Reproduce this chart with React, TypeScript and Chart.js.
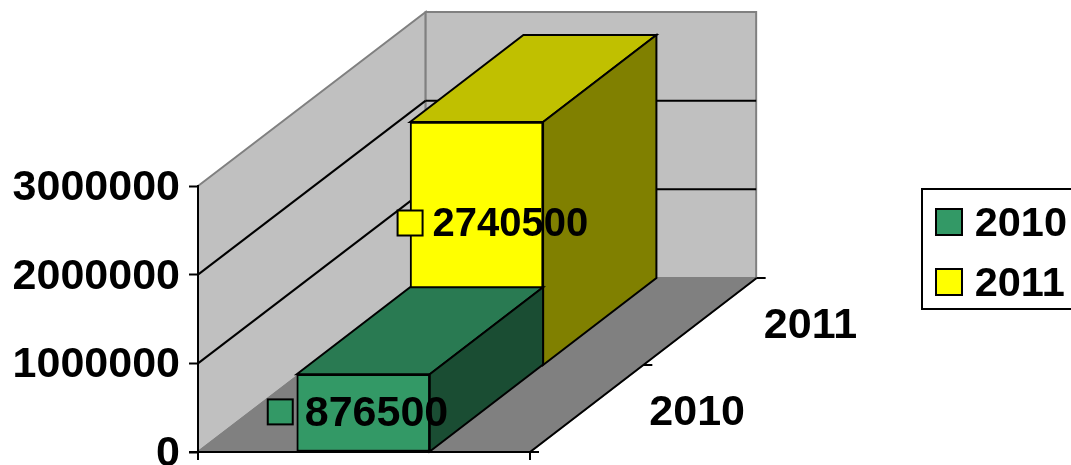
import React, { useEffect, useRef } from "react";
import { Chart, registerables } from "chart.js";

Chart.register(...registerables);

const categories = ["2010", "2011"];
const seriesValues = [876500, 2740500];
const seriesColors = ["#339966", "#FFFF00"];
const topColors = ["#297A52", "#C0C000"];
const sideColors = ["#1A4D33", "#808000"];
const yTicks = [0, 1000000, 2000000, 3000000];

const FONT = "'Liberation Sans', Arial, sans-serif";
const WALL = "#C0C0C0";
const FLOOR = "#808080";
const EDGE = "#808080";
const LW = 2;
const CANVAS_W = 1077;
// Label anchor relative to each bar's front face centre
const labelShiftX = [-95.5, -79];
const labelShiftY = [-1, -20.5];
const labelTextGap = [37, 35];
const labelFontSize = [43, 40];

const poly = (ctx: any, pts: number[][], fill: string | null, stroke?: string, lw = LW) => {
  ctx.beginPath();
  pts.forEach((p, i) => (i ? ctx.lineTo(p[0], p[1]) : ctx.moveTo(p[0], p[1])));
  ctx.closePath();
  if (fill) {
    ctx.fillStyle = fill;
    ctx.fill();
  }
  if (stroke) {
    ctx.strokeStyle = stroke;
    ctx.lineWidth = lw;
    ctx.stroke();
  }
};

const seg = (ctx: any, x1: number, y1: number, x2: number, y2: number, c = "#000", lw = LW) => {
  ctx.beginPath();
  ctx.moveTo(x1, y1);
  ctx.lineTo(x2, y2);
  ctx.strokeStyle = c;
  ctx.lineWidth = lw;
  ctx.stroke();
};

const depth = (chart: any) => ({
  dx: chart.scales.x.getPixelForValue(1) - chart.scales.x.getPixelForValue(0),
  dy: chart.scales.yBack.getPixelForValue(0) - chart.scales.y.getPixelForValue(0),
});

const box3d = {
  id: "box3d",
  afterLayout(chart: any) {
    chart.legend.top -= 1.5;
    chart.legend.bottom -= 1.5;
  },
  beforeDraw(chart: any) {
    const { ctx, chartArea, scales } = chart;
    const { dx, dy } = depth(chart);
    const L = chartArea.left;
    const R = L + 332;
    const n = categories.length;
    const DX = dx * n;
    const DY = dy * n;
    const BL = L + DX + 1;
    const BR = R + DX - 0.5;
    const y0 = scales.y.getPixelForValue(0);
    const yT = scales.y.getPixelForValue(3000000);
    ctx.save();
    poly(ctx, [[L, yT], [BL, yT + DY], [BL, y0 + DY], [L, y0]], WALL, EDGE);
    poly(ctx, [[BL, yT + DY], [BR, yT + DY], [BR, y0 + DY], [BL, y0 + DY]], WALL, EDGE);
    poly(ctx, [[L, y0], [BL, y0 + DY], [BR, y0 + DY], [R, y0]], FLOOR, EDGE);
    yTicks.slice(1, -1).forEach((v) => {
      const y = scales.y.getPixelForValue(v);
      seg(ctx, L, y, BL, y + DY);
      seg(ctx, BL, y + DY, BR, y + DY);
    });
    ctx.restore();
  },
  beforeDatasetDraw(chart: any, args: any) {
    const { ctx } = chart;
    const { dx, dy } = depth(chart);
    const i = args.index;
    const el = chart.getDatasetMeta(i).data[0];
    if (!el) return;
    const hw = el.width / 2;
    const l = el.x - hw;
    const r = el.x + hw;
    const t = el.y;
    const b = el.base;
    ctx.save();
    poly(ctx, [[l, t], [l + dx, t + dy], [r + dx, t + dy], [r, t]], topColors[i], "#000");
    poly(ctx, [[r, t], [r + dx, t + dy], [r + dx, b + dy], [r, b]], sideColors[i], "#000");
    ctx.restore();
  },
  afterDatasetsDraw(chart: any) {
    const { ctx, chartArea, scales } = chart;
    const { dx, dy } = depth(chart);
    const L = chartArea.left;
    const R = L + 332;
    const y0 = scales.y.getPixelForValue(0);
    ctx.save();
    // front and depth axes with their tick marks
    seg(ctx, L - 9, y0, R, y0);
    seg(ctx, L, y0, L, y0 + 8);
    seg(ctx, R, y0, R, y0 + 8);
    const n = categories.length;
    seg(ctx, R, y0, R + dx * n, y0 + dy * n);
    for (let k = 0; k <= n; k++) {
      const x = R + dx * k;
      const y = y0 + dy * k;
      seg(ctx, x, y, x + 9, y);
    }
    ctx.fillStyle = "#000";
    ctx.textAlign = "center";
    ctx.textBaseline = "middle";
    ctx.font = `bold 43px ${FONT}`;
    categories.forEach((c, k) => {
      ctx.fillText(c, R + dx * (k + 0.5) + 110.5, y0 + dy * (k + 0.5) + 4.5);
    });
    // data labels with colour keys
    seriesValues.forEach((v, i) => {
      const el = chart.getDatasetMeta(i).data[0];
      const cy = (el.y + el.base) / 2 + labelShiftY[i];
      const kx = el.x + labelShiftX[i];
      ctx.fillStyle = seriesColors[i];
      ctx.fillRect(kx, cy - 12.5, 25, 25);
      ctx.strokeStyle = "#000";
      ctx.lineWidth = LW;
      ctx.strokeRect(kx, cy - 12.5, 25, 25);
      ctx.fillStyle = "#000";
      ctx.textAlign = "left";
      ctx.font = `bold ${labelFontSize[i]}px ${FONT}`;
      ctx.fillText(String(v), kx + labelTextGap[i], cy + 2);
    });
    // legend frame and keys
    const lg = chart.legend;
    ctx.strokeStyle = "#000";
    ctx.lineWidth = LW;
    ctx.strokeRect(922, lg.top + 4.5, 200, 120);
    seriesColors.forEach((c, i) => {
      ctx.fillStyle = c;
      ctx.fillRect(936, lg.top + 24.5 + i * 60, 26, 26);
      ctx.strokeRect(936, lg.top + 24.5 + i * 60, 26, 26);
    });
    ctx.restore();
  },
};

export default function App() {
  const ref = useRef<HTMLCanvasElement>(null);
  useEffect(() => {
    const pxPerUnit = 113.5;
    const chart = new Chart(ref.current as HTMLCanvasElement, {
      type: "bar",
      data: {
        labels: categories,
        datasets: categories.map((c, i) => ({
          label: c,
          data: [{ x: i, y: seriesValues[i] }],
          yAxisID: i === 0 ? "y" : "yBack",
          backgroundColor: seriesColors[i],
          borderColor: "#000",
          borderWidth: LW,
          borderSkipped: false,
          barThickness: 133,
          grouped: false,
          clip: false as any,
        })),
      },
      options: {
        animation: false,
        responsive: false,
        layout: { padding: { top: 186, bottom: 13 } },
        plugins: {
          title: { display: false },
          tooltip: { enabled: false },
          legend: {
            position: "right",
            align: "start",
            labels: {
              boxWidth: 26,
              boxHeight: 26,
              padding: 19,
              color: "#000",
              font: { family: FONT, weight: "bold", size: 41.5 },
              generateLabels: () =>
                categories.map((c, i) => ({
                  text: c,
                  datasetIndex: i,
                  fillStyle: "rgba(0,0,0,0)",
                  strokeStyle: "rgba(0,0,0,0)",
                  lineWidth: 0,
                })),
            },
          },
        },
        scales: {
          x: {
            type: "linear",
            display: false,
            offset: false,
            min: (198 - 363.5) / pxPerUnit,
            max: (910 - 363.5) / pxPerUnit,
          },
          y: {
            min: 0,
            max: 3000000,
            afterFit: (s: any) => {
              s.width = 198;
              s.paddingTop = 0;
              s.paddingBottom = 0;
            },
            afterBuildTicks: (s: any) => {
              s.ticks = yTicks.map((value) => ({ value }));
            },
            grid: { drawOnChartArea: false, tickLength: 9, tickColor: "#000", tickWidth: LW },
            border: { display: true, color: "#000", width: LW },
            ticks: {
              color: "#000",
              padding: 9,
              labelOffset: 2,
              font: { family: FONT, weight: "bold", size: 43 },
              callback: (v: any) => String(v),
            },
          },
          yBack: {
            display: false,
            min: -(87 / 266) * 3000000,
            max: 3000000 - (87 / 266) * 3000000,
          },
        },
      } as any,
      plugins: [box3d],
    });
    return () => chart.destroy();
  }, []);
  return (
    <div style={{ position: "fixed", left: 0, top: 0, width: 1071, height: 465, overflow: "hidden", background: "#fff" }}>
      <canvas ref={ref} width={CANVAS_W} height={465} style={{ display: "block" }} />
    </div>
  );
}
